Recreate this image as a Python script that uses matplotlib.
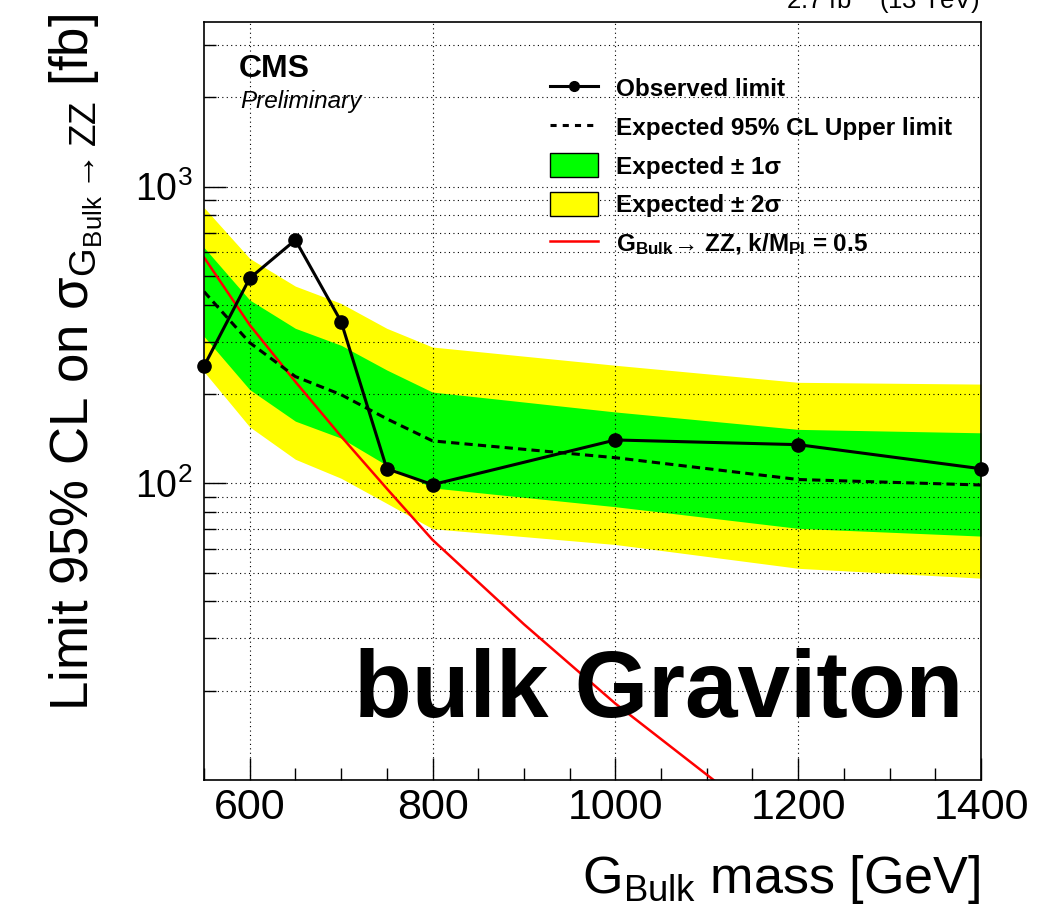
import matplotlib
matplotlib.use("Agg")
import matplotlib.pyplot as plt
from matplotlib.lines import Line2D
from matplotlib.patches import Patch
from matplotlib.ticker import FixedLocator, MultipleLocator, LogLocator, LogFormatterMathtext, NullFormatter

# ---- limit data (fb) vs bulk graviton mass (GeV) ----
mass = [550, 600, 650, 700, 750, 800, 1000, 1200, 1400]
observed = [248, 491, 661, 351, 112, 99, 140, 135, 112]
expected = [443, 298, 229, 199, 165, 139, 122, 103, 98.7]
exp_plus1 = [624, 415, 333, 292, 241, 203, 174, 152, 148]
exp_minus1 = [313, 207, 162, 142, 115, 96.5, 83.4, 70.5, 66.4]
exp_plus2 = [851, 573, 462, 404, 333, 288, 250, 219, 216]
exp_minus2 = [238, 155, 120.5, 104, 85.6, 70.3, 62.2, 51.7, 47.9]

# theory cross section, k/M_Pl = 0.5
theory_mass = [550, 600, 650, 700, 750, 800, 900, 1000, 1200]
theory_xsec = [578, 342, 220, 144, 96, 64.5, 33.5, 18.1, 6.0]

x_major = [600, 800, 1000, 1200, 1400]
y_major = [100, 1000]

plt.rcParams["font.family"] = ["Liberation Sans", "DejaVu Sans"]
plt.rcParams["mathtext.fontset"] = "custom"
plt.rcParams["mathtext.rm"] = "Liberation Sans"
plt.rcParams["mathtext.it"] = "Liberation Sans:italic"
plt.rcParams["mathtext.bf"] = "Liberation Sans:bold"
plt.rcParams["mathtext.sf"] = "Liberation Sans"

fig = plt.figure(figsize=(10.39, 9.11), dpi=100)
ax = fig.add_axes([0.1963, 0.1438, 0.7479, 0.8317])

green = "#00ff00"
yellow = "#ffff00"

ax.fill_between(mass, exp_minus2, exp_plus2, color=yellow, lw=0, zorder=1)
ax.fill_between(mass, exp_minus1, exp_plus1, color=green, lw=0, zorder=1.1)
ax.plot(theory_mass, theory_xsec, color="#ff0000", lw=1.8, zorder=3)
ax.plot(mass, expected, color="black", lw=2.2, linestyle=(0, (2.7, 1.7)), zorder=3.5)
ax.plot(mass, observed, color="black", lw=2.2, marker="o", ms=9.5, zorder=4, clip_on=False)

ax.set_xlim(550, 1400)
ax.set_yscale("log")
ax.set_ylim(10, 3580)

ax.xaxis.set_major_locator(FixedLocator(x_major))
ax.xaxis.set_minor_locator(MultipleLocator(50))
ax.yaxis.set_major_locator(FixedLocator(y_major))
ax.yaxis.set_major_formatter(LogFormatterMathtext())
ax.yaxis.set_minor_locator(LogLocator(base=10, subs=range(2, 10), numticks=20))
ax.yaxis.set_minor_formatter(NullFormatter())

ax.tick_params(which="both", direction="in", top=False, right=False, width=1.0, color="black")
ax.tick_params(which="major", length=16)
ax.tick_params(which="minor", length=8.5)
ax.tick_params(axis="x", labelsize=31, pad=6)
ax.tick_params(axis="y", labelsize=27, pad=8)

ax.set_axisbelow(False)
grid_kw = dict(color="black", lw=0.8, linestyle=(0, (1, 3)))
ax.grid(True, which="major", axis="x", **grid_kw)
ax.grid(True, which="both", axis="y", **grid_kw)

for sp in ax.spines.values():
    sp.set_linewidth(1.2)
    sp.set_zorder(5)

# axis titles
fig.text(0.9432, 1 - 893 / 911, r"G$_{\mathrm{Bulk}}$ mass [GeV]", ha="right", va="baseline",
         fontsize=37.5)
fig.text(47 / 1039, 1 - 14 / 911,
         r"Limit 95% CL on $\mathrm{\sigma}_{\mathrm{G}_{\mathrm{Bulk}}\rightarrow\mathrm{ZZ}}$ [fb]",
         rotation=90, ha="left", va="top", fontsize=38)

# labels inside the frame
fig.text(239 / 1039, 1 - 77.3 / 911, "CMS", fontsize=23, fontweight="bold", va="baseline")
fig.text(240 / 1039, 1 - 108 / 911, "Preliminary", fontsize=17.5, style="italic", va="baseline")
fig.text(963 / 1039, 1 - 717 / 911, "bulk Graviton", fontsize=68, fontweight="bold",
         ha="right", va="baseline")
fig.text(980 / 1039, 1 - 10 / 911, r"2.7 fb$^{-1}$ (13 TeV)", fontsize=18.5,
         ha="right", va="baseline")

handles = [
    Line2D([], [], color="black", lw=2.2, marker="o", ms=7),
    Line2D([], [], color="black", lw=2.2, linestyle=(0, (2.0, 2.0))),
    Patch(facecolor=green, edgecolor="black", lw=1.0),
    Patch(facecolor=yellow, edgecolor="black", lw=1.0),
    Line2D([], [], color="#ff0000", lw=1.8),
]
labels = [
    "Observed limit",
    "Expected 95% CL Upper limit",
    "Expected \u00b1 1\u03c3",
    "Expected \u00b1 2\u03c3",
    r"$\mathbf{G}_{\mathbf{Bulk}}\!\rightarrow\!$ ZZ, k/M$_{\mathbf{Pl}}$ = 0.5",
]
leg = ax.legend(handles, labels, loc="upper left", bbox_to_anchor=(550 / 1039, 1 - 76 / 911),
                bbox_transform=fig.transFigure, frameon=False, borderpad=0, borderaxespad=0,
                handlelength=1.97, handletextpad=0.74, handleheight=1.15, labelspacing=0.55,
                prop={"size": 17.5, "weight": "bold"})
leg.set_zorder(6)

fig.savefig("out.png", dpi=100)
